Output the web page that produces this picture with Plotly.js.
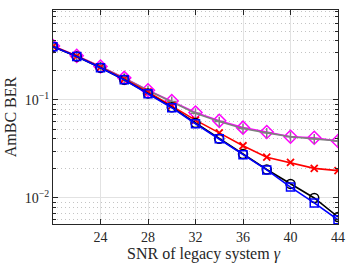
<!DOCTYPE html>
<html><head><meta charset="utf-8">
<script src="https://cdn.plot.ly/plotly-3.0.1.min.js"></script>
<style>html,body{margin:0;padding:0;background:#fff}#c{width:349px;height:270px}</style>
</head><body><div id="c"></div>
<script>
const snr = [20,22,24,26,28,30,32,34,36,38,40,42,44];
const berBlue    = [0.347,0.275,0.212,0.160,0.115,0.083,0.057,0.040,0.0275,0.0193,0.0129,0.0089,0.0060];
const berBlack   = [0.347,0.275,0.212,0.160,0.116,0.084,0.058,0.040,0.028,0.0195,0.0139,0.0100,0.0064];
const berRed     = [0.350,0.278,0.215,0.163,0.120,0.087,0.062,0.046,0.034,0.026,0.023,0.020,0.019];
const berMagenta = [0.352,0.280,0.218,0.167,0.125,0.097,0.074,0.061,0.052,0.047,0.042,0.041,0.038];
const berGray    = [0.350,0.279,0.217,0.166,0.124,0.096,0.073,0.060,0.051,0.046,0.042,0.040,0.038];
const xTicks = [24,28,32,36,40,44];
const yTicks = [0.01,0.1];
const yTickText = ['10<sup>−2</sup>','10<sup>−1</sup>'];
const yMinor = [0.006,0.007,0.008,0.009,0.02,0.03,0.04,0.05,0.06,0.07,0.08,0.09,0.2,0.3,0.4,0.5,0.6,0.7,0.8];

const traces = [
 {x:snr,y:berMagenta,mode:'lines+markers',line:{color:'#ff00ff',width:1.6},marker:{symbol:'diamond-open',size:10,color:'#ff00ff',line:{width:1.5}}},
 {x:snr,y:berGray,mode:'lines+markers',line:{color:'#808080',width:1.6},marker:{symbol:'cross-thin-open',size:7,color:'#808080',line:{width:1.5,color:'#808080'}}},
 {x:snr,y:berRed,mode:'lines+markers',line:{color:'#ff0000',width:1.6},marker:{symbol:'x-thin-open',size:7,color:'#ff0000',line:{width:1.8,color:'#ff0000'}}},
 {x:snr,y:berBlack,mode:'lines+markers',line:{color:'#000000',width:1.6},marker:{symbol:'circle-open',size:9,color:'#000000',line:{width:1.5}}},
 {x:snr,y:berBlue,mode:'lines+markers',line:{color:'#0000ff',width:1.6},marker:{symbol:'square-open',size:8,color:'#0000ff',line:{width:1.5}}}
];
const font = {family:'"Liberation Serif", "DejaVu Serif", serif', color:'#262626'};
const layout = {
 width:349,height:270,margin:{l:53,r:11,t:10,b:46},
 paper_bgcolor:'#fff',plot_bgcolor:'#fff',showlegend:false,
 font:font,
 xaxis:{range:[20,44],tickvals:xTicks,ticks:'inside',ticklen:5,tickcolor:'#262626',
   showline:true,linecolor:'#262626',linewidth:1,mirror:'ticks',
   showgrid:true,gridcolor:'#e2e2e2',gridwidth:1,zeroline:false,
   tickfont:{size:14,family:font.family,color:'#262626'},
   title:{text:'&nbsp;&nbsp;&nbsp;&nbsp;SNR of legacy system <i>γ</i>',font:{size:16,family:font.family,color:'#262626'},standoff:1}},
 yaxis:{type:'log',range:[Math.log10(0.00543),Math.log10(0.82)],tickvals:yTicks,ticktext:yTickText,
   ticks:'inside',ticklen:5,tickcolor:'#262626',
   showline:true,linecolor:'#262626',linewidth:1,mirror:'ticks',
   showgrid:true,gridcolor:'#e2e2e2',gridwidth:1,zeroline:false,
   tickfont:{size:14,family:font.family,color:'#262626'},
   minor:{tickvals:yMinor,ticks:'inside',ticklen:3,tickcolor:'#262626',showgrid:true,gridcolor:'#c4c4c4',griddash:'1px,3px',gridwidth:1},
   title:{text:'AmBC BER',font:{size:16,family:font.family,color:'#262626'},standoff:4}}
};
Plotly.newPlot('c',traces,layout,{staticPlot:true,displayModeBar:false});
</script></body></html>
